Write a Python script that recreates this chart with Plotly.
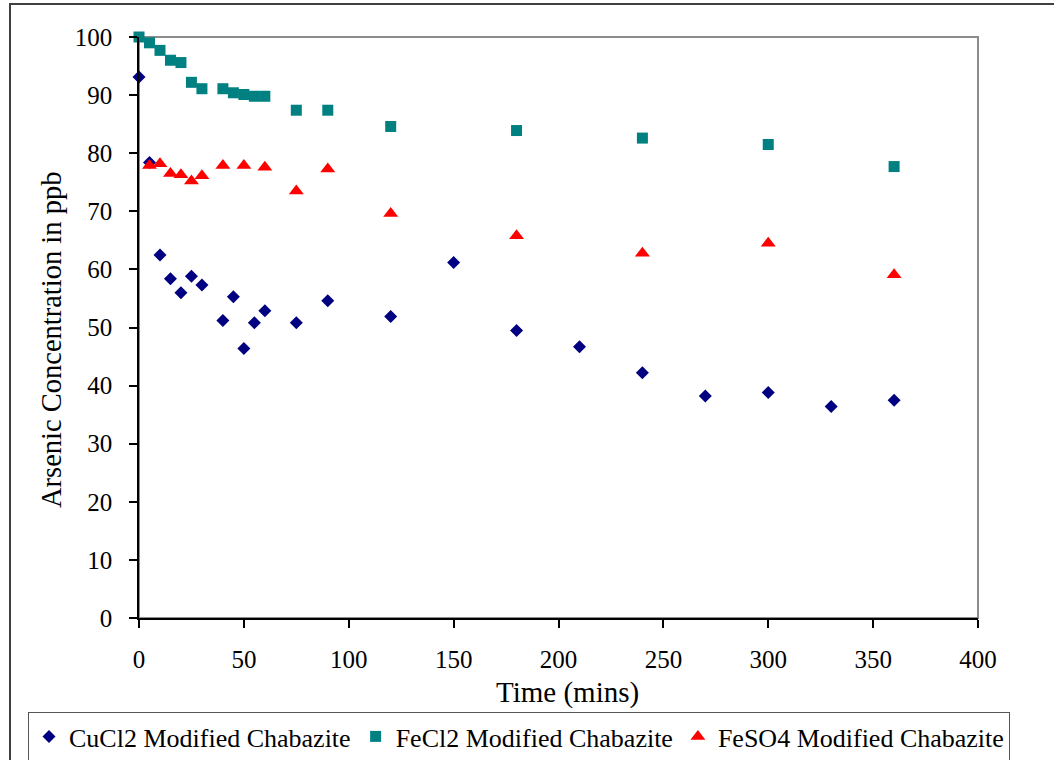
import plotly.graph_objects as go

# Time (mins)
cucl2_time = [0, 5, 10, 15, 20, 25, 30, 40, 45, 50, 55, 60, 75, 90, 120, 150, 180, 210, 240, 270, 300, 330, 360]
cucl2_conc = [93.1, 78.4, 62.5, 58.4, 56.0, 58.8, 57.3, 51.2, 55.3, 46.4, 50.8, 52.9, 50.8, 54.6, 51.9, 61.2, 49.5, 46.7, 42.2, 38.2, 38.8, 36.4, 37.5]

fecl2_time = [0, 5, 10, 15, 20, 25, 30, 40, 45, 50, 55, 60, 75, 90, 120, 180, 240, 300, 360]
fecl2_conc = [100.0, 99.0, 97.7, 96.0, 95.6, 92.2, 91.1, 91.1, 90.4, 90.1, 89.8, 89.8, 87.4, 87.4, 84.6, 83.9, 82.6, 81.5, 77.7]

feso4_time = [5, 10, 15, 20, 25, 30, 40, 50, 60, 75, 90, 120, 180, 240, 300, 360]
feso4_conc = [77.9, 78.2, 76.5, 76.3, 75.2, 76.1, 77.9, 77.9, 77.6, 73.5, 77.3, 69.6, 65.8, 62.8, 64.5, 59.1]

series_names = ["CuCl2 Modified Chabazite", "FeCl2 Modified Chabazite", "FeSO4 Modified Chabazite"]
x_ticks = [0, 50, 100, 150, 200, 250, 300, 350, 400]
y_ticks = [0, 10, 20, 30, 40, 50, 60, 70, 80, 90, 100]
x_title = "Time (mins)"
y_title = "Arsenic Concentration in ppb"

FONT = "Liberation Serif, Times New Roman, serif"

fig = go.Figure()
fig.add_trace(go.Scatter(x=cucl2_time, y=cucl2_conc, mode="markers", name=series_names[0],
                         marker=dict(symbol="diamond", size=10, color="#000080"), cliponaxis=False))
fig.add_trace(go.Scatter(x=fecl2_time, y=fecl2_conc, mode="markers", name=series_names[1],
                         marker=dict(symbol="square", size=11, color="#008080"), cliponaxis=False))
fig.add_trace(go.Scatter(x=feso4_time, y=feso4_conc, mode="markers", name=series_names[2],
                         marker=dict(symbol="triangle-up", size=13, color="#FF0000"), cliponaxis=False))

L, R, T, B = 139, 978, 37, 618
W, H = 1054, 760
pw, ph = R - L, B - T

def px2paper_x(p):
    return (p - L) / pw

def px2paper_y(p):
    return (B - p) / ph

fig.update_layout(
    width=W, height=H,
    margin=dict(l=L, r=W - R, t=T, b=H - B, autoexpand=False),
    paper_bgcolor="white", plot_bgcolor="white",
    font=dict(family=FONT, color="black", size=25),
    showlegend=True,
    legend=dict(orientation="h", x=px2paper_x(28), xanchor="left",
                y=px2paper_y(712), yanchor="top",
                bordercolor="#555555", borderwidth=1, bgcolor="white",
                font=dict(family=FONT, size=26, color="black"),
                itemwidth=30, traceorder="normal"),
    xaxis=dict(range=[0, 400], tickvals=x_ticks, ticktext=[str(v) for v in x_ticks],
               showgrid=False, zeroline=False, showline=True, linecolor="black", linewidth=1.5,
               ticks="outside", ticklen=8, tickcolor="black", tickwidth=1.5,
               ticklabelstandoff=10,
               tickfont=dict(family=FONT, size=25)),
    yaxis=dict(range=[0, 100], tickvals=y_ticks, ticktext=[str(v) for v in y_ticks],
               showgrid=False, zeroline=False, showline=True, linecolor="black", linewidth=1.5,
               ticks="outside", ticklen=8, tickcolor="black", tickwidth=1.5,
               ticklabelstandoff=12,
               tickfont=dict(family=FONT, size=25)),
    annotations=[
        dict(text=x_title, xref="paper", yref="paper", x=px2paper_x(567), y=px2paper_y(692),
             xanchor="center", yanchor="middle", showarrow=False,
             font=dict(family=FONT, size=29, color="black")),
        dict(text=y_title, xref="paper", yref="paper", x=px2paper_x(52), y=px2paper_y(340),
             xanchor="center", yanchor="middle", showarrow=False, textangle=-90,
             font=dict(family=FONT, size=28.5, color="black")),
    ],
    shapes=[
        dict(type="rect", xref="paper", yref="paper", x0=0, x1=1, y0=0, y1=1,
             line=dict(color="#8c8c8c", width=2), layer="below"),
        dict(type="rect", xref="paper", yref="paper",
             x0=px2paper_x(10), x1=px2paper_x(1070), y0=px2paper_y(775), y1=px2paper_y(4),
             line=dict(color="#404040", width=2), layer="below"),
    ],
)

fig.write_html("out.html")
